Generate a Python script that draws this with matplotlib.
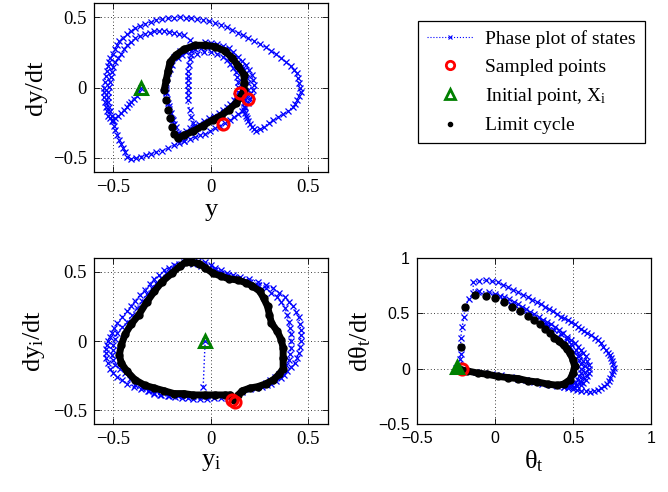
import numpy as np
import matplotlib.pyplot as plt
from matplotlib.lines import Line2D

plt.rcParams['font.family'] = ['Liberation Serif', 'DejaVu Serif']
plt.rcParams['mathtext.fontset'] = 'custom'
plt.rcParams['mathtext.rm'] = 'Liberation Serif'
plt.rcParams['mathtext.it'] = 'Liberation Serif:italic'

# ---- top-left panel: y vs dy/dt ----
tl_states_a = [(-0.36, 0.0), (-0.37, -0.03), (-0.38, -0.06), (-0.395, -0.08), (-0.41, -0.10),
               (-0.42, -0.12), (-0.43, -0.14), (-0.445, -0.16), (-0.46, -0.18), (-0.475, -0.20),
               (-0.49, -0.22), (-0.50, -0.23), (-0.51, -0.24), (-0.52, -0.22), (-0.53, -0.20),
               (-0.535, -0.17), (-0.54, -0.14), (-0.545, -0.10), (-0.55, -0.07), (-0.55, -0.035),
               (-0.55, 0.0), (-0.545, 0.04), (-0.54, 0.08), (-0.535, 0.115), (-0.53, 0.15),
               (-0.525, 0.18), (-0.52, 0.21), (-0.505, 0.24), (-0.49, 0.27), (-0.48, 0.30),
               (-0.47, 0.33), (-0.45, 0.355), (-0.43, 0.38), (-0.41, 0.40), (-0.39, 0.42),
               (-0.365, 0.435), (-0.34, 0.45), (-0.31, 0.465), (-0.28, 0.48), (-0.25, 0.485),
               (-0.22, 0.49), (-0.19, 0.495), (-0.16, 0.50), (-0.13, 0.495), (-0.10, 0.49),
               (-0.07, 0.485), (-0.04, 0.48), (-0.01, 0.47), (0.02, 0.46), (0.05, 0.445),
               (0.08, 0.43), (0.11, 0.41), (0.14, 0.39), (0.165, 0.37), (0.19, 0.35),
               (0.22, 0.33), (0.25, 0.31), (0.28, 0.285), (0.31, 0.26), (0.335, 0.235),
               (0.36, 0.21), (0.385, 0.18), (0.41, 0.15), (0.425, 0.125), (0.44, 0.10),
               (0.445, 0.065), (0.45, 0.03), (0.455, 0.0), (0.46, -0.03), (0.45, -0.06),
               (0.44, -0.09), (0.43, -0.115), (0.42, -0.14), (0.395, -0.165), (0.37, -0.19),
               (0.345, -0.21), (0.32, -0.23), (0.295, -0.255), (0.27, -0.28), (0.25, -0.295),
               (0.23, -0.31), (0.22, -0.295), (0.21, -0.28), (0.20, -0.26), (0.19, -0.24),
               (0.185, -0.22), (0.18, -0.20), (0.175, -0.18), (0.17, -0.16), (0.17, -0.135),
               (0.17, -0.11), (0.175, -0.09), (0.18, -0.07), (0.185, -0.045), (0.19, -0.02),
               (0.19, 0.03), (0.185, 0.065), (0.18, 0.10), (0.17, 0.125), (0.16, 0.15),
               (0.14, 0.18), (0.12, 0.21), (0.10, 0.23), (0.08, 0.25), (0.055, 0.265),
               (0.03, 0.28), (-0.02, 0.29), (-0.05, 0.28), (-0.08, 0.27), (-0.13, 0.25),
               (-0.15, 0.23), (-0.17, 0.21), (-0.20, 0.16), (-0.21, 0.13), (-0.22, 0.10),
               (-0.23, 0.03), (-0.23, -0.04), (-0.22, -0.11), (-0.215, -0.15), (-0.21, -0.19),
               (-0.20, -0.225), (-0.19, -0.26), (-0.17, -0.32), (-0.15, -0.35)]
tl_states_b = [(-0.14, -0.38), (-0.165, -0.395), (-0.19, -0.41), (-0.22, -0.43), (-0.25, -0.45),
               (-0.28, -0.46), (-0.31, -0.47), (-0.335, -0.48), (-0.36, -0.49), (-0.385, -0.50),
               (-0.41, -0.51), (-0.43, -0.49), (-0.44, -0.46), (-0.45, -0.43), (-0.46, -0.40),
               (-0.47, -0.37), (-0.48, -0.335), (-0.49, -0.30), (-0.495, -0.27), (-0.50, -0.24),
               (-0.51, -0.205), (-0.52, -0.17), (-0.525, -0.135), (-0.53, -0.10), (-0.53, -0.065),
               (-0.53, -0.03), (-0.525, 0.005), (-0.52, 0.04), (-0.515, 0.075), (-0.51, 0.11),
               (-0.50, 0.145), (-0.49, 0.18), (-0.475, 0.21), (-0.46, 0.24), (-0.445, 0.27),
               (-0.43, 0.30), (-0.41, 0.325), (-0.39, 0.35), (-0.365, 0.365), (-0.34, 0.38),
               (-0.315, 0.39), (-0.29, 0.40), (-0.265, 0.40), (-0.24, 0.40), (-0.215, 0.395),
               (-0.19, 0.39), (-0.165, 0.38), (-0.14, 0.37), (-0.11, 0.34), (-0.08, 0.30),
               (-0.09, 0.28), (-0.10, 0.26), (-0.105, 0.23), (-0.11, 0.20), (-0.115, 0.16),
               (-0.12, 0.12), (-0.12, 0.085), (-0.12, 0.05), (-0.12, 0.015), (-0.12, -0.02),
               (-0.12, -0.055), (-0.12, -0.09), (-0.11, -0.16), (-0.10, -0.21), (-0.09, -0.25),
               (-0.07, -0.29)]
tl_states_c = [(-0.07, 0.24), (-0.035, 0.25), (0.0, 0.25), (0.03, 0.24), (0.06, 0.22),
               (0.08, 0.195), (0.10, 0.17), (0.115, 0.14), (0.13, 0.11), (0.135, 0.075),
               (0.14, 0.04), (0.14, 0.005), (0.14, -0.03), (0.13, -0.06), (0.12, -0.09),
               (0.10, -0.115), (0.08, -0.14), (0.06, -0.16), (0.04, -0.18), (0.015, -0.20),
               (-0.01, -0.22), (-0.035, -0.24), (-0.06, -0.26), (-0.085, -0.275), (-0.11, -0.29),
               (-0.13, -0.31), (-0.15, -0.33)]
tl_states_d = [(-0.03, 0.32), (0.0, 0.315), (0.03, 0.31), (0.06, 0.295), (0.09, 0.28),
               (0.115, 0.25), (0.14, 0.22), (0.16, 0.19), (0.18, 0.16), (0.195, 0.125),
               (0.21, 0.09), (0.215, 0.055), (0.22, 0.02), (0.215, -0.02), (0.21, -0.06),
               (0.20, -0.085), (0.19, -0.11), (0.175, -0.14), (0.16, -0.17), (0.14, -0.19),
               (0.12, -0.21), (0.095, -0.23), (0.07, -0.25), (0.045, -0.27), (0.02, -0.29),
               (-0.005, -0.31), (-0.03, -0.33), (-0.055, -0.34), (-0.08, -0.35), (-0.11, -0.365),
               (-0.14, -0.38)]
tl_states_e = [(-0.16, 0.26), (-0.19, 0.22), (-0.21, 0.17), (-0.22, 0.12), (-0.225, 0.07),
               (-0.23, 0.02), (-0.23, -0.03), (-0.225, -0.08), (-0.215, -0.13), (-0.205, -0.18),
               (-0.195, -0.23), (-0.18, -0.28), (-0.16, -0.33)]
tl_cycle_dense = [(-0.24, -0.02), (-0.23, 0.05), (-0.22, 0.12), (-0.21, 0.18), (-0.18, 0.23),
                  (-0.14, 0.27), (-0.08, 0.30), (-0.03, 0.30), (0.02, 0.29), (0.07, 0.26),
                  (0.11, 0.21), (0.14, 0.15), (0.17, 0.09), (0.17, 0.03), (0.17, -0.02),
                  (0.15, -0.07), (0.13, -0.11), (0.09, -0.16), (0.05, -0.20), (0.01, -0.23),
                  (-0.04, -0.27), (-0.09, -0.31), (-0.14, -0.34), (-0.17, -0.36)]
tl_cycle_sparse = [(-0.19, -0.33), (-0.20, -0.28), (-0.21, -0.22), (-0.22, -0.16), (-0.23, -0.09)]
tl_sampled = [(0.15, -0.04), (0.19, -0.08), (0.06, -0.26)]
tl_initial = (-0.36, 0.0)

# ---- bottom-left panel: y_i vs dy_i/dt ----
bl_states_a = [(-0.03, 0.0), (-0.04, -0.33)]
bl_states_b = [(-0.10, 0.58), (-0.065, 0.575), (-0.03, 0.57), (0.0, 0.55), (0.02, 0.53),
               (0.05, 0.51), (0.08, 0.49), (0.115, 0.475), (0.15, 0.46), (0.195, 0.445),
               (0.24, 0.43), (0.28, 0.405), (0.32, 0.38), (0.35, 0.35), (0.38, 0.32),
               (0.40, 0.285), (0.42, 0.25), (0.435, 0.21), (0.45, 0.17), (0.455, 0.125),
               (0.46, 0.08), (0.46, 0.04), (0.46, 0.0), (0.455, -0.045), (0.45, -0.09),
               (0.44, -0.125), (0.43, -0.16), (0.41, -0.19), (0.39, -0.22), (0.375, -0.245),
               (0.36, -0.27), (0.335, -0.29), (0.31, -0.31), (0.285, -0.32), (0.26, -0.33),
               (0.23, -0.34), (0.20, -0.35), (0.16, -0.37), (0.12, -0.41), (0.085, -0.41),
               (0.05, -0.41), (0.015, -0.415), (-0.02, -0.42), (-0.055, -0.42), (-0.09, -0.42),
               (-0.12, -0.415), (-0.15, -0.41), (-0.185, -0.405), (-0.22, -0.40), (-0.255, -0.39),
               (-0.29, -0.38), (-0.325, -0.365), (-0.36, -0.35), (-0.395, -0.33), (-0.43, -0.31),
               (-0.455, -0.285), (-0.48, -0.26), (-0.50, -0.23), (-0.52, -0.20), (-0.53, -0.16),
               (-0.54, -0.12), (-0.54, -0.09), (-0.54, -0.06), (-0.535, -0.03), (-0.53, 0.0),
               (-0.52, 0.03), (-0.51, 0.06), (-0.495, 0.095), (-0.48, 0.13), (-0.455, 0.175),
               (-0.43, 0.22), (-0.41, 0.255), (-0.39, 0.29), (-0.365, 0.33), (-0.34, 0.37),
               (-0.315, 0.41), (-0.29, 0.45), (-0.265, 0.48), (-0.24, 0.51), (-0.215, 0.53),
               (-0.19, 0.55), (-0.165, 0.56), (-0.14, 0.57), (-0.10, 0.58)]
bl_states_c = [(-0.09, 0.56), (-0.05, 0.545), (-0.01, 0.53), (0.02, 0.51), (0.05, 0.49),
               (0.085, 0.475), (0.12, 0.46), (0.16, 0.445), (0.20, 0.43), (0.24, 0.405),
               (0.28, 0.38), (0.31, 0.35), (0.34, 0.32), (0.36, 0.28), (0.38, 0.24),
               (0.39, 0.19), (0.40, 0.14), (0.405, 0.095), (0.41, 0.05), (0.41, 0.0),
               (0.41, -0.05), (0.405, -0.095), (0.40, -0.14), (0.385, -0.175), (0.37, -0.21),
               (0.35, -0.235), (0.33, -0.26), (0.305, -0.28), (0.28, -0.30)]
bl_states_d = [(0.0, -0.40), (-0.045, -0.40), (-0.09, -0.40), (-0.13, -0.40), (-0.17, -0.40),
               (-0.215, -0.395), (-0.26, -0.39), (-0.29, -0.375), (-0.32, -0.36), (-0.355, -0.34),
               (-0.39, -0.32), (-0.415, -0.275), (-0.44, -0.23), (-0.465, -0.20), (-0.49, -0.17),
               (-0.50, -0.135), (-0.51, -0.10), (-0.505, -0.065), (-0.50, -0.03), (-0.49, 0.015),
               (-0.48, 0.06), (-0.455, 0.10), (-0.43, 0.14), (-0.405, 0.19), (-0.38, 0.24),
               (-0.355, 0.29), (-0.33, 0.34), (-0.305, 0.38), (-0.28, 0.42), (-0.255, 0.455),
               (-0.23, 0.49), (-0.205, 0.515), (-0.18, 0.54), (-0.155, 0.555), (-0.13, 0.57)]
bl_cycle_dense = [(-0.10, 0.57), (-0.06, 0.56), (-0.03, 0.53), (0.01, 0.49), (0.05, 0.47),
                  (0.09, 0.45), (0.14, 0.44), (0.18, 0.42), (0.21, 0.40), (0.25, 0.36),
                  (0.27, 0.31), (0.29, 0.25), (0.30, 0.19), (0.31, 0.13), (0.34, 0.07),
                  (0.36, 0.01), (0.37, -0.05), (0.37, -0.12), (0.37, -0.20), (0.35, -0.24),
                  (0.32, -0.28), (0.28, -0.31), (0.24, -0.33), (0.20, -0.34), (0.16, -0.36),
                  (0.14, -0.39), (0.12, -0.43), (0.10, -0.39), (0.07, -0.39), (0.02, -0.39),
                  (-0.03, -0.39), (-0.09, -0.39), (-0.14, -0.38), (-0.19, -0.38), (-0.24, -0.36),
                  (-0.29, -0.34), (-0.34, -0.32), (-0.39, -0.28), (-0.43, -0.22), (-0.46, -0.16),
                  (-0.47, -0.10), (-0.46, -0.03), (-0.44, 0.05), (-0.41, 0.12), (-0.37, 0.19),
                  (-0.33, 0.28), (-0.29, 0.36), (-0.25, 0.43), (-0.20, 0.49), (-0.16, 0.54),
                  (-0.13, 0.57), (-0.10, 0.57)]
bl_sampled = [(0.11, -0.43), (0.125, -0.44)]
bl_initial = (-0.03, 0.0)

# ---- bottom-right panel: theta_t vs dtheta_t/dt ----
br_states_a = [(-0.25, 0.01), (-0.23, 0.04), (-0.225, 0.085), (-0.22, 0.13), (-0.22, 0.20),
               (-0.22, 0.28), (-0.21, 0.38), (-0.20, 0.47), (-0.19, 0.55), (-0.17, 0.63),
               (-0.14, 0.68), (-0.14, 0.78), (-0.10, 0.79), (-0.06, 0.80), (-0.02, 0.79),
               (0.02, 0.78), (0.05, 0.76), (0.08, 0.74), (0.115, 0.715), (0.15, 0.69),
               (0.18, 0.67), (0.21, 0.65), (0.24, 0.625), (0.27, 0.60), (0.295, 0.58),
               (0.32, 0.56), (0.345, 0.54), (0.37, 0.52), (0.395, 0.495), (0.42, 0.47),
               (0.445, 0.455), (0.47, 0.44), (0.49, 0.42), (0.51, 0.40), (0.53, 0.38),
               (0.55, 0.36), (0.57, 0.34), (0.59, 0.32), (0.615, 0.30), (0.64, 0.28),
               (0.66, 0.255), (0.68, 0.23), (0.695, 0.20), (0.71, 0.17), (0.725, 0.145),
               (0.74, 0.12), (0.745, 0.095), (0.75, 0.07), (0.755, 0.04), (0.76, 0.01),
               (0.755, -0.02), (0.75, -0.05), (0.74, -0.08), (0.73, -0.11), (0.715, -0.135),
               (0.70, -0.16), (0.68, -0.175), (0.66, -0.19), (0.635, -0.20), (0.61, -0.21),
               (0.58, -0.205), (0.55, -0.20), (0.525, -0.19), (0.50, -0.18), (0.47, -0.175),
               (0.44, -0.17), (0.40, -0.16), (0.36, -0.15), (0.30, -0.135), (0.25, -0.12),
               (0.20, -0.105), (0.15, -0.09), (0.10, -0.075), (0.04, -0.06), (-0.02, -0.05),
               (-0.07, -0.04), (-0.12, -0.03), (-0.18, -0.02)]
br_states_b = [(-0.10, 0.70), (-0.04, 0.69), (0.0, 0.675), (0.03, 0.66), (0.06, 0.645),
               (0.09, 0.63), (0.12, 0.605), (0.15, 0.58), (0.175, 0.56), (0.20, 0.54),
               (0.225, 0.515), (0.25, 0.49), (0.28, 0.465), (0.31, 0.44), (0.335, 0.42),
               (0.36, 0.40), (0.385, 0.375), (0.41, 0.35), (0.435, 0.32), (0.46, 0.29),
               (0.485, 0.26), (0.51, 0.23), (0.53, 0.20), (0.55, 0.17), (0.565, 0.14),
               (0.58, 0.11), (0.59, 0.07), (0.60, 0.03), (0.60, 0.0), (0.60, -0.04),
               (0.59, -0.07), (0.58, -0.10), (0.565, -0.125), (0.55, -0.15), (0.525, -0.16),
               (0.50, -0.17)]
br_states_c = [(-0.11, 0.69), (-0.055, 0.67), (0.0, 0.66), (0.05, 0.62), (0.10, 0.58),
               (0.155, 0.535), (0.21, 0.49), (0.265, 0.44), (0.32, 0.39), (0.36, 0.34),
               (0.40, 0.29), (0.44, 0.245), (0.48, 0.20), (0.505, 0.155), (0.53, 0.11),
               (0.54, 0.075), (0.55, 0.04), (0.55, 0.0), (0.55, -0.04), (0.54, -0.07),
               (0.53, -0.10), (0.51, -0.12), (0.49, -0.14), (0.465, -0.155), (0.44, -0.17)]
br_states_d = [(0.30, 0.43), (0.34, 0.39), (0.38, 0.35), (0.42, 0.31), (0.46, 0.265),
               (0.49, 0.22), (0.52, 0.17), (0.54, 0.12), (0.565, 0.07), (0.575, 0.02),
               (0.575, -0.03), (0.565, -0.08), (0.55, -0.12), (0.52, -0.15), (0.48, -0.16)]
br_cycle_dense = [(0.38, 0.28), (0.41, 0.25), (0.44, 0.21), (0.46, 0.18), (0.48, 0.14),
                  (0.50, 0.08), (0.51, 0.02), (0.50, -0.04), (0.48, -0.10), (0.44, -0.14),
                  (0.40, -0.15), (0.34, -0.14), (0.27, -0.12), (0.21, -0.11), (0.15, -0.09),
                  (0.08, -0.08), (0.02, -0.07), (-0.05, -0.05), (-0.11, -0.04), (-0.18, -0.02),
                  (-0.22, -0.01)]
br_cycle_sparse = [(-0.22, 0.20), (-0.19, 0.56), (-0.13, 0.67), (-0.06, 0.66), (0.0, 0.64),
                   (0.06, 0.60), (0.11, 0.56), (0.16, 0.52), (0.21, 0.48), (0.25, 0.44),
                   (0.29, 0.40), (0.32, 0.36), (0.35, 0.32)]
br_sampled = [(-0.21, 0.0)]
br_initial = (-0.245, 0.015)

tick_vals = [-0.5, 0, 0.5]
tick_text = ['\u22120.5', '0', '0.5']
br_tick_vals = [-0.5, 0, 0.5, 1]
br_tick_text = ['\u22120.5', '0', '0.5', '1']

fig = plt.figure(figsize=(6.68, 4.92), dpi=100)


def xy(pts):
    a = np.array(pts, dtype=float)
    return a[:, 0], a[:, 1]


def draw_states(ax, strands):
    for s in strands:
        x, y = xy(s)
        ax.plot(x, y, ':', color='b', lw=1.0, marker='x', ms=4.2, mew=0.9)


def draw_cycle(ax, dense, sparse):
    x, y = xy(dense)
    ax.plot(x, y, '-', color='k', lw=5, solid_capstyle='round', solid_joinstyle='round')
    ax.plot(x, y, 'o', color='k', ms=5)
    if sparse:
        x, y = xy(sparse)
        ax.plot(x, y, 'o', color='k', ms=5)


def draw_points(ax, sampled, initial, filled=False):
    x, y = xy(sampled)
    ax.plot(x, y, 'o', mfc='none', mec='r', ms=8, mew=2.2)
    ax.plot([initial[0]], [initial[1]], '^', mfc=(0, 0.5, 0) if filled else 'none',
            mec=(0, 0.5, 0), ms=9, mew=2.2)


def style(ax, ticks, labels, lim, xlabel, ylabel, tick_family, tick_size):
    ax.set_xlim(lim)
    ax.set_ylim(lim)
    ax.set_xticks(ticks)
    ax.set_yticks(ticks)
    ax.set_xticklabels(labels, fontfamily=tick_family, fontsize=tick_size)
    ax.set_yticklabels(labels, fontfamily=tick_family, fontsize=tick_size)
    ax.grid(True, color='k', linestyle=(0, (1, 3)), linewidth=0.6)
    ax.tick_params(direction='in', top=True, right=True, length=4, width=0.6, pad=5)
    for sp in ax.spines.values():
        sp.set_linewidth(0.9)
    ax.set_xlabel(xlabel, fontsize=19, labelpad=2)
    ax.set_ylabel(ylabel, fontsize=19, labelpad=4)


ax1 = fig.add_axes([0.1407, 0.6504, 0.3503, 0.3435])
draw_states(ax1, [tl_states_a, tl_states_b, tl_states_c, tl_states_d, tl_states_e])
draw_cycle(ax1, tl_cycle_dense, tl_cycle_sparse)
draw_points(ax1, tl_sampled, tl_initial)
style(ax1, tick_vals, tick_text, (-0.6, 0.6), 'y', 'dy/dt', 'Liberation Serif', 13.5)

ax2 = fig.add_axes([0.1407, 0.1382, 0.3503, 0.3374])
draw_states(ax2, [bl_states_a, bl_states_b, bl_states_c, bl_states_d])
draw_cycle(ax2, bl_cycle_dense, [])
draw_points(ax2, bl_sampled, bl_initial)
style(ax2, tick_vals, tick_text, (-0.6, 0.6), r'$\mathrm{y_i}$', r'$\mathrm{dy_i/dt}$',
      'Liberation Serif', 13.5)

ax3 = fig.add_axes([0.6243, 0.1382, 0.3503, 0.3374])
draw_states(ax3, [br_states_a, br_states_b, br_states_c, br_states_d])
draw_cycle(ax3, br_cycle_dense, br_cycle_sparse)
draw_points(ax3, br_sampled, br_initial, filled=True)
style(ax3, br_tick_vals, br_tick_text, (-0.5, 1.0), r'$\mathrm{θ_t}$', r'$\mathrm{dθ_t/dt}$',
      'Liberation Sans', 11.5)

handles = [
    Line2D([], [], ls=':', color='b', lw=0.8, marker='x', ms=3.5, mew=0.8),
    Line2D([], [], ls='none', marker='o', mfc='none', mec='r', ms=6, mew=2),
    Line2D([], [], ls='none', marker='^', mfc='none', mec=(0, 0.5, 0), ms=7, mew=2),
    Line2D([], [], ls='none', marker='o', color='k', ms=3),
]
labels = ['Phase plot of states', 'Sampled points', r'Initial point, $\mathrm{X_i}$', 'Limit cycle']
leg = fig.legend(handles, labels, loc='upper left', bbox_to_anchor=(0.626, 0.957),
                 borderaxespad=0, fontsize=14, frameon=True, fancybox=False, framealpha=1,
                 edgecolor='k', handlelength=2.4, handletextpad=0.6, labelspacing=0.52,
                 borderpad=0.45)
leg.get_frame().set_linewidth(0.9)

fig.savefig('out.png', dpi=100)
